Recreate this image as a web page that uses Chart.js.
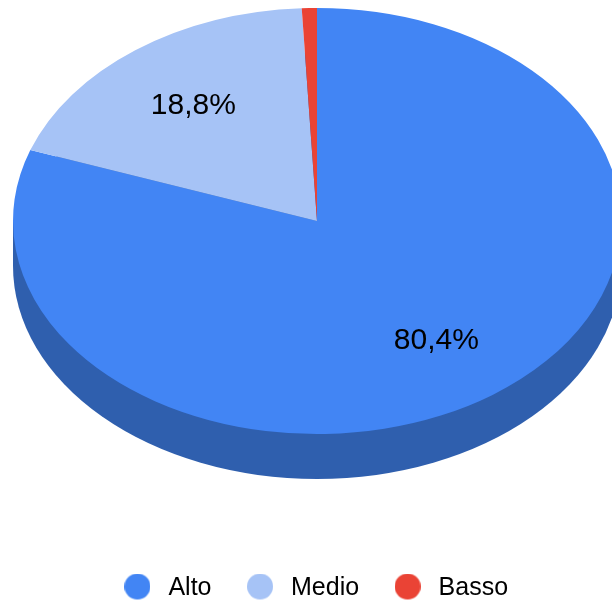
<!DOCTYPE html>
<html>
<head>
<meta charset="utf-8">
<style>
  html, body { margin: 0; padding: 0; background: #fff; }
  #wrap { width: 612px; height: 602px; overflow: hidden; }
</style>
<script src="https://cdn.jsdelivr.net/npm/chart.js@4/dist/chart.umd.min.js"></script>
</head>
<body>
<div id="wrap"><canvas id="chart" width="612" height="602"></canvas></div>
<script>
const categories = ["Alto", "Medio", "Basso"];
const shares = [80.4, 18.8, 0.8];
const colors = ["#4285f4", "#a6c3f6", "#ea4335"];
const sideColor = "#2f5fae";

// where the tilted pie sits on the page
const pieX = 317, pieY = 221, pieRx = 304, pieRy = 213, pieDepth = 45;

function legendDot(color) {
  // taller than the dot so it lines up with the middle of the text
  const c = document.createElement("canvas");
  c.width = 26;
  c.height = 30;
  const g = c.getContext("2d");
  g.fillStyle = color;
  g.beginPath();
  g.arc(13, 13, 13, 0, Math.PI * 2);
  g.fill();
  return c;
}

// squashes the flat pie into an ellipse and puts the dark side under it
const tiltPlugin = {
  id: "tilt",
  beforeDatasetsDraw(chart) {
    const arc = chart.getDatasetMeta(0).data[0];
    const ctx = chart.ctx;
    ctx.save();
    ctx.fillStyle = sideColor;
    ctx.beginPath();
    ctx.ellipse(pieX, pieY + pieDepth, pieRx, pieRy, 0, 0, Math.PI * 2);
    ctx.fill();
    ctx.fillRect(pieX - pieRx, pieY, pieRx * 2, pieDepth);
    ctx.translate(pieX, pieY);
    ctx.scale(pieRx / arc.outerRadius, pieRy / arc.outerRadius);
    ctx.translate(-arc.x, -arc.y);
  },
  afterDatasetsDraw(chart) {
    const ctx = chart.ctx;
    ctx.restore();
    ctx.save();
    ctx.fillStyle = "#000";
    ctx.font = "30px 'Liberation Sans'";
    ctx.textAlign = "center";
    ctx.textBaseline = "middle";
    chart.getDatasetMeta(0).data.forEach((arc, i) => {
      if (shares[i] < 5) return;
      const mid = (arc.startAngle + arc.endAngle) / 2;
      const x = pieX + Math.cos(mid) * pieRx * 0.68;
      const y = pieY + Math.sin(mid) * pieRy * 0.68 + 1;
      ctx.fillText(shares[i].toFixed(1).replace(".", ",") + "%", x, y);
    });
    ctx.restore();
  }
};

new Chart(document.getElementById("chart"), {
  type: "pie",
  data: {
    labels: categories,
    datasets: [{
      data: shares,
      backgroundColor: colors,
      borderWidth: 0,
      clip: false
    }]
  },
  options: {
    responsive: false,
    animation: false,
    layout: { padding: { left: 15, bottom: -9 } },
    plugins: {
      tooltip: { enabled: false },
      legend: {
        position: "bottom",
        labels: {
          usePointStyle: true,
          pointStyleWidth: 37,
          boxHeight: 25,
          padding: 30,
          color: "#222",
          font: { family: "'Liberation Sans'", size: 25 },
          generateLabels: () => categories.map((text, i) => ({
            text,
            fillStyle: colors[i],
            strokeStyle: colors[i],
            lineWidth: 0,
            pointStyle: legendDot(colors[i]),
            datasetIndex: 0,
            index: i
          }))
        }
      }
    }
  },
  plugins: [tiltPlugin]
});
</script>
</body>
</html>
